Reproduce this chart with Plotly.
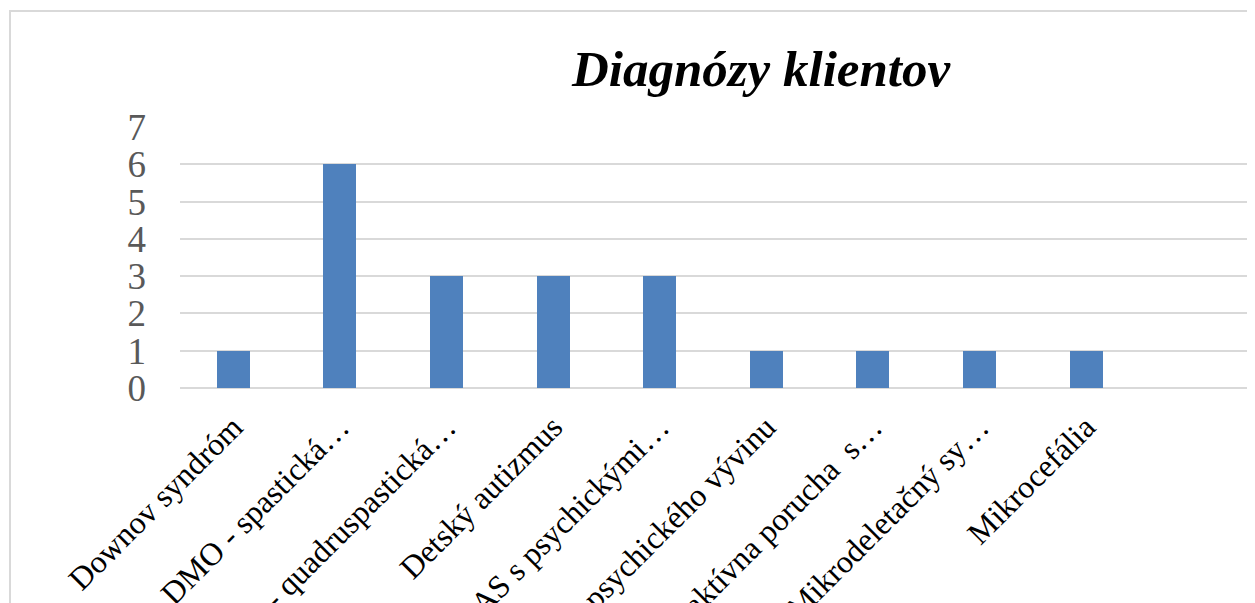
import plotly.graph_objects as go

categories = [
    "Downov syndróm",
    "DMO - spastická…",
    "DMO - quadruspastická…",
    "Detský autizmus",
    "PAS s psychickými…",
    "Porucha psychického vývinu",
    "Hyperaktívna porucha  s…",
    "Mikrodeletačný sy…",
    "Mikrocefália",
]
values = [1, 6, 3, 3, 3, 1, 1, 1, 1]
y_ticks = [0, 1, 2, 3, 4, 5, 6, 7]
title_text = "Diagnózy klientov"

fig = go.Figure(
    go.Bar(
        x=list(range(len(categories))),
        y=values,
        marker=dict(color="#4F81BD", line=dict(width=0)),
        width=0.31,
    )
)

# page body has an 8px margin; the figure is sized to fit the 1255x603 window
OFF = 8
W, H = 1255 - OFF, 603 - OFF
L = 180 - OFF
T = 127 - OFF
plot_bottom = 388 - OFF
B = H - plot_bottom
R = 0
pw = W - L - R
ph = H - T - B


def px_x(p):
    return (p - OFF - L) / pw


def px_y(p):
    return (plot_bottom - (p - OFF)) / ph


fig.update_layout(
    width=W,
    height=H,
    margin=dict(l=L, r=R, t=T, b=B, autoexpand=False),
    paper_bgcolor="white",
    plot_bgcolor="white",
    showlegend=False,
    bargap=0,
    font=dict(family="Liberation Serif, Times New Roman, serif", color="#000000"),
    title=dict(
        text="<b><i>" + title_text + "</i></b>",
        x=(761 - OFF) / W,
        xanchor="center",
        xref="container",
        y=1 - (68 - OFF) / H,
        yanchor="middle",
        yref="container",
        font=dict(family="Liberation Serif, Times New Roman, serif", size=51, color="#000000"),
    ),
    xaxis=dict(
        range=[-0.5, -0.5 + pw / 106.6],
        tickmode="array",
        tickvals=list(range(len(categories))),
        ticktext=categories,
        tickangle=-45,
        tickfont=dict(size=32, color="#000000"),
        showgrid=False,
        showline=False,
        zeroline=False,
        ticks="",
        automargin=False,
        ticklabelstandoff=13,
    ),
    yaxis=dict(
        range=[0, 7],
        tickmode="array",
        tickvals=y_ticks,
        ticktext=[str(v) for v in y_ticks],
        tickfont=dict(size=37, color="#595959"),
        showgrid=True,
        gridcolor="#D9D9D9",
        gridwidth=2,
        zeroline=True,
        zerolinecolor="#D9D9D9",
        zerolinewidth=2,
        showline=False,
        ticks="",
        automargin=False,
        ticklabelstandoff=33,
    ),
    shapes=[
        dict(
            type="rect",
            xref="paper",
            yref="paper",
            x0=px_x(10),
            x1=px_x(1275),
            y0=px_y(623),
            y1=px_y(11),
            line=dict(color="#D9D9D9", width=2),
            fillcolor="rgba(0,0,0,0)",
            layer="below",
        )
    ],
)

fig.write_html("out.html")
